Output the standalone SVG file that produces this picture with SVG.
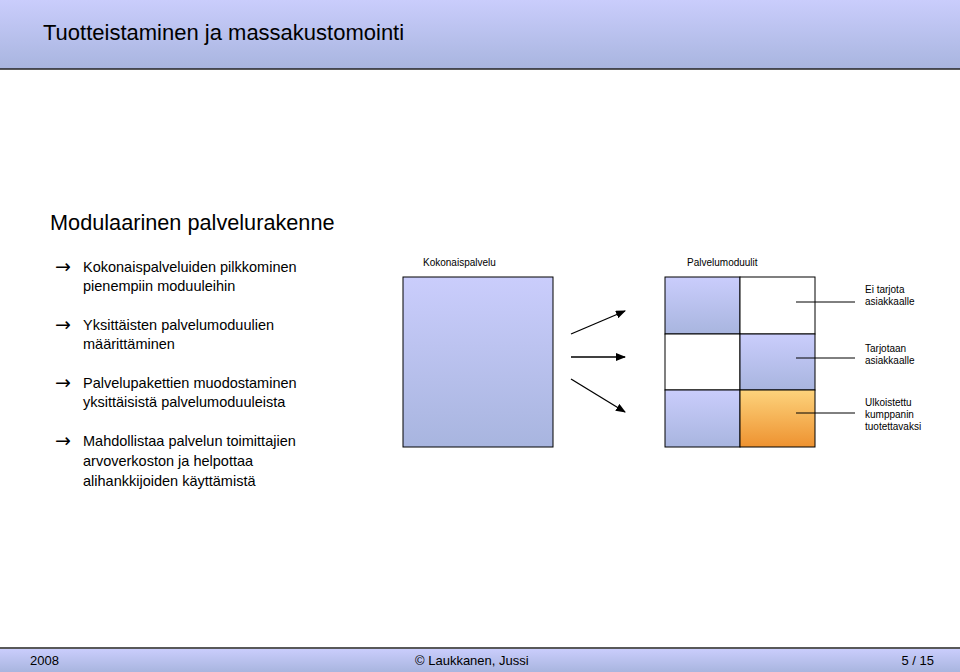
<svg xmlns="http://www.w3.org/2000/svg" width="960" height="672" viewBox="0 0 960 672">
<defs>
<linearGradient id="blue" x1="0" y1="0" x2="0" y2="1"><stop offset="0" stop-color="#cacdfc"/><stop offset="1" stop-color="#a8b5df"/></linearGradient>
<linearGradient id="orange" x1="0" y1="0" x2="0" y2="1"><stop offset="0" stop-color="#fdd37c"/><stop offset="1" stop-color="#ee9230"/></linearGradient>
<marker id="ah" markerWidth="10" markerHeight="8" refX="9" refY="4" orient="auto" markerUnits="userSpaceOnUse"><path d="M0,0 L10,4 L0,8 Z" fill="#000"/></marker>
<style>
text{font-family:"Liberation Sans",Arial,sans-serif;fill:#000}
.b{font-size:14.5px}
.s{font-size:10px}
.bul{font-family:"DejaVu Sans",sans-serif;font-size:19px}
.cell{stroke:#000;stroke-width:1}
.ar{stroke:#000;stroke-width:1.3;fill:none}
.ld{stroke:#000;stroke-width:1}
</style>
</defs>
<rect width="960" height="672" fill="#fff"/>
<rect x="0" y="0" width="960" height="69" fill="url(#blue)"/>
<line x1="0" y1="69" x2="960" y2="69" stroke="#222" stroke-width="1.5"/>
<text x="43" y="40" font-size="22">Tuotteistaminen ja massakustomointi</text>
<text x="50" y="230" font-size="21.7">Modulaarinen palvelurakenne</text>
<g id="bullets">
<text x="55" y="273" class="bul">→</text><text x="83" y="272" class="b">Kokonaispalveluiden pilkkominen</text><text x="83" y="291" class="b">pienempiin moduuleihin</text>
<text x="55" y="331" class="bul">→</text><text x="83" y="330" class="b">Yksittäisten palvelumoduulien</text><text x="83" y="349" class="b">määrittäminen</text>
<text x="55" y="389" class="bul">→</text><text x="83" y="388" class="b">Palvelupakettien muodostaminen</text><text x="83" y="407" class="b">yksittäisistä palvelumoduuleista</text>
<text x="55" y="447" class="bul">→</text><text x="83" y="446" class="b">Mahdollistaa palvelun toimittajien</text><text x="83" y="466" class="b">arvoverkoston ja helpottaa</text><text x="83" y="486" class="b">alihankkijoiden käyttämistä</text>
</g>
<g id="kokonaispalvelu">
<text x="423" y="266" class="s">Kokonaispalvelu</text>
<rect x="403" y="277" width="150" height="170" fill="url(#blue)" class="cell"/>
</g>
<g id="palvelumoduulit">
<text x="687" y="266" class="s">Palvelumoduulit</text>
<rect x="665" y="277" width="75" height="57" fill="url(#blue)" class="cell"/>
<rect x="740" y="277" width="75" height="57" fill="#fff" class="cell"/>
<rect x="665" y="334" width="75" height="56" fill="#fff" class="cell"/>
<rect x="740" y="334" width="75" height="56" fill="url(#blue)" class="cell"/>
<rect x="665" y="390" width="75" height="57" fill="url(#blue)" class="cell"/>
<rect x="740" y="390" width="75" height="57" fill="url(#orange)" class="cell"/>
</g>
<g id="labels">
<text x="865" y="293" class="s">Ei tarjota</text><text x="865" y="305" class="s">asiakkaalle</text>
<text x="865" y="352" class="s">Tarjotaan</text><text x="865" y="364" class="s">asiakkaalle</text>
<text x="865" y="406" class="s">Ulkoistettu</text><text x="865" y="418" class="s">kumppanin</text><text x="865" y="430" class="s">tuotettavaksi</text>
</g>
<g id="connectors">
<line x1="571" y1="334" x2="625" y2="311" class="ar" marker-end="url(#ah)"/>
<line x1="571" y1="357" x2="625" y2="357" class="ar" marker-end="url(#ah)"/>
<line x1="571" y1="379" x2="625" y2="412" class="ar" marker-end="url(#ah)"/>
<line x1="796" y1="302" x2="855" y2="302" class="ld"/>
<line x1="796" y1="358" x2="855" y2="358" class="ld"/>
<line x1="796" y1="413" x2="855" y2="413" class="ld"/>
</g>
<line x1="0" y1="648" x2="960" y2="648" stroke="#222" stroke-width="1.5"/>
<rect x="0" y="649" width="960" height="23" fill="url(#blue)"/>
<text x="30" y="665" font-size="13">2008</text>
<text x="415" y="665" font-size="13">© Laukkanen, Jussi</text>
<text x="934" y="665" font-size="13" text-anchor="end">5 / 15</text>
</svg>
